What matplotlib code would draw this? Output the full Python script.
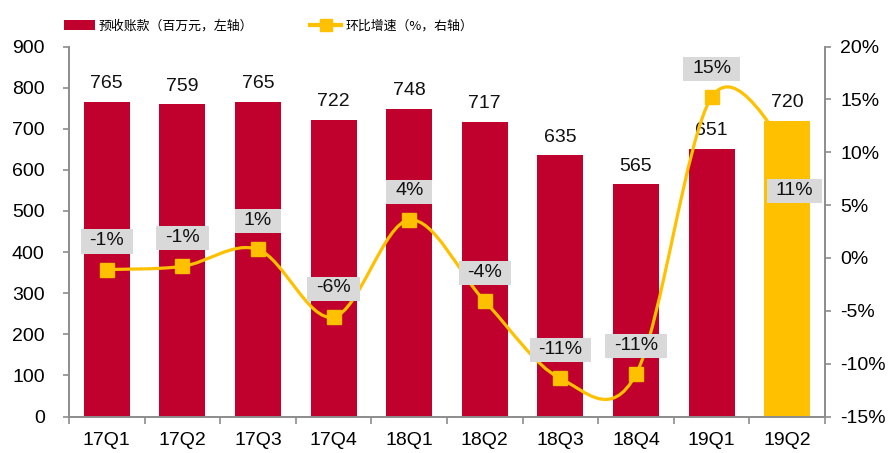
import matplotlib
matplotlib.use("Agg")
import matplotlib.pyplot as plt
import numpy as np
from matplotlib.patches import Patch, PathPatch
from matplotlib.lines import Line2D
from matplotlib.path import Path

plt.rcParams['font.family'] = ['Liberation Sans', 'Noto Sans CJK SC', 'DejaVu Sans']

categories = ['17Q1', '17Q2', '17Q3', '17Q4', '18Q1', '18Q2', '18Q3', '18Q4', '19Q1', '19Q2']
advance_receipts = [765, 759, 765, 722, 748, 717, 635, 565, 651, 720]
qoq_growth = [-1.1, -0.8, 0.8, -5.6, 3.6, -4.1, -11.4, -11.0, 15.2, 10.6]
qoq_labels = ['-1%', '-1%', '1%', '-6%', '4%', '-4%', '-11%', '-11%', '15%', '11%']
left_ticks = [0, 100, 200, 300, 400, 500, 600, 700, 800, 900]
right_ticks = [-15, -10, -5, 0, 5, 10, 15, 20]

RED = '#C0002D'
GOLD = '#FFC000'
GRAY = '#8C8C8C'
FS = 14

W, H = 889, 453
fig = plt.figure(figsize=(W / 100, H / 100), dpi=100)
ax = fig.add_axes([69 / W, 1 - 416.5 / H, (825 - 69) / W, (416.5 - 46.5) / H])
ax2 = ax.twinx()

x = np.arange(len(categories))
colors = [RED] * (len(categories) - 1) + [GOLD]
ax.bar(x, advance_receipts, width=0.61, color=colors, zorder=2)
ax.set_xlim(-0.5, len(categories) - 0.5)
ax.set_ylim(0, 900)
ax.set_yticks(left_ticks)
ax.set_xticks(x)
ax.set_xticklabels(categories)
ax.set_xticks(np.arange(-0.5, len(categories), 1), minor=True)
ax.tick_params(axis='x', which='major', length=0, pad=11, labelsize=FS)
ax.tick_params(axis='x', which='minor', length=5, color=GRAY, width=1.2, direction='out')
ax.tick_params(axis='y', length=4.5, color=GRAY, width=1.2, labelsize=FS, pad=13)

for a in (ax, ax2):
    a.spines['top'].set_visible(False)
    for s in ('left', 'right', 'bottom'):
        a.spines[s].set_color(GRAY)
        a.spines[s].set_linewidth(1.2)

for xi, v in zip(x, advance_receipts):
    ax.annotate(f'{v}', (xi, v), xytext=(0, 7), textcoords='offset points',
                ha='center', va='bottom', fontsize=FS, color='#111111', zorder=5)

ax2.set_ylim(-15, 20)
ax2.set_yticks(right_ticks)
ax2.set_yticklabels([f'{t}%' for t in right_ticks])
ax2.tick_params(axis='y', length=4, color=GRAY, width=1.2, labelsize=FS, pad=7)

# smoothed line (Catmull-Rom -> Bezier), like Excel smoothing
pts = np.column_stack([x, qoq_growth]).astype(float)
verts = [tuple(pts[0])]
codes = [Path.MOVETO]
n = len(pts)
for i in range(n - 1):
    p0 = pts[i - 1] if i > 0 else pts[i]
    p1 = pts[i]
    p2 = pts[i + 1]
    p3 = pts[i + 2] if i + 2 < n else pts[i + 1]
    c1 = p1 + (p2 - p0) / 6
    c2 = p2 - (p3 - p1) / 6
    verts += [tuple(c1), tuple(c2), tuple(p2)]
    codes += [Path.CURVE4] * 3
ax2.add_patch(PathPatch(Path(verts, codes), fill=False, edgecolor=GOLD, lw=2.3, zorder=3))
ax2.plot(x, qoq_growth, linestyle='none', marker='s', markersize=10.5,
         color=GOLD, zorder=4)


def label_box(x0, y0, width, height, mutation_size, *args):
    hp = 0.45 * mutation_size
    xa, xb = x0 - hp, x0 + width + hp
    ya = y0 - 0.24 * mutation_size
    yb = y0 + height + 0.13 * mutation_size
    return Path([(xa, ya), (xb, ya), (xb, yb), (xa, yb), (xa, ya)],
                [Path.MOVETO, Path.LINETO, Path.LINETO, Path.LINETO, Path.CLOSEPOLY])


for i, (xi, v, lab) in enumerate(zip(x, qoq_growth, qoq_labels)):
    off = (5, -32) if i == len(x) - 1 else (0, 21)
    ax2.annotate(lab, (xi, v), xytext=off, textcoords='offset points',
                 ha='center', va='center', fontsize=FS, color='#111111', zorder=6,
                 bbox=dict(boxstyle=label_box, fc='#D9D9D9', ec='none'))

handles = [Patch(facecolor=RED, edgecolor='none'),
           Line2D([0], [0], color=GOLD, lw=3, marker='s', markersize=8)]
fig.legend(handles, ['预收账款（百万元，左轴）', '环比增速（%，右轴）'],
           loc='center left', bbox_to_anchor=(64 / W, 1 - 26 / H), ncol=2, frameon=False,
           borderpad=0, borderaxespad=0, handlelength=2.4, handleheight=0.8,
           handletextpad=0.3, columnspacing=4.4,
           prop={'family': ['Noto Sans CJK SC', 'DejaVu Sans'], 'size': 9.3})

fig.savefig('out.png', dpi=100)
